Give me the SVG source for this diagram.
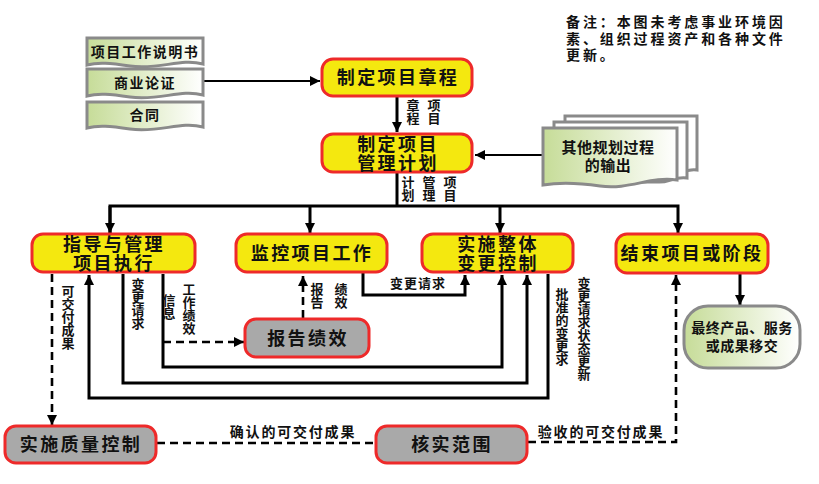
<svg xmlns="http://www.w3.org/2000/svg" width="819" height="484" viewBox="0 0 819 484">
<style>
text{font-family:"Noto Sans CJK SC","Liberation Sans",sans-serif;fill:#111;}
.node{fill:#f4e80f;stroke:#ee2a2a;stroke-width:3;}
.gnode{fill:#a9a9a9;stroke:#ee2a2a;stroke-width:3;}
.doc{fill:url(#gg);stroke:#8a8a8a;stroke-width:3;}
.nt{font-size:18px;font-weight:700;letter-spacing:2.4px;text-anchor:middle;}
.dt{font-size:14px;font-weight:700;letter-spacing:1.5px;text-anchor:middle;}
.lb{font-size:14px;font-weight:700;letter-spacing:1.8px;text-anchor:middle;}
.vt{font-size:13px;font-weight:700;writing-mode:vertical-rl;}
.ln{fill:none;stroke:#000;stroke-width:3;}
.dl{fill:none;stroke:#000;stroke-width:2.6;stroke-dasharray:8 5;}
.note{font-size:14px;font-weight:700;letter-spacing:2.9px;}
</style>
<defs>
<linearGradient id="gg" x1="0" y1="0" x2="1" y2="0"><stop offset="0" stop-color="#c6dc98"/><stop offset="1" stop-color="#ffffff"/></linearGradient>
<marker id="ah" viewBox="0 0 10 10" refX="10" refY="5" markerWidth="10" markerHeight="10" markerUnits="userSpaceOnUse" orient="auto"><path d="M0,0 L10,5 L0,10 z" fill="#000"/></marker>
</defs>

<text class="note" x="566" y="27"><tspan x="566" y="27">备注：本图未考虑事业环境因</tspan><tspan x="566" y="44">素、组织过程资产和各种文件</tspan><tspan x="566" y="60">更新。</tspan></text>

<g id="connectors">
<path class="ln" style="stroke-width:2" d="M203,81 H320" marker-end="url(#ah)"/>
<path class="ln" d="M397,97 V132" marker-end="url(#ah)"/>
<path class="ln" style="stroke-width:2" d="M543,155 H475" marker-end="url(#ah)"/>
<path class="ln" d="M397,172 V206"/>
<path class="ln" d="M110,233 V206 H678 V233" marker-end="url(#ah)"/>
<path class="ln" d="M110,206 V233" marker-end="url(#ah)"/>
<path class="ln" d="M310,206 V233" marker-end="url(#ah)"/>
<path class="ln" d="M500,206 V233" marker-end="url(#ah)"/>
<path class="ln" d="M740,274 V305" marker-end="url(#ah)"/>
<path class="dl" d="M303,318 V276" marker-end="url(#ah)"/>
<path class="ln" d="M363,273 V295 H465 V275" marker-end="url(#ah)"/>
<path class="dl" d="M52,274 V425" marker-end="url(#ah)"/>
<path class="ln" d="M163,274 V367 H502 V275" marker-end="url(#ah)"/>
<path class="dl" d="M163,342 H244" marker-end="url(#ah)"/>
<path class="ln" d="M123,274 V383 H527 V275" marker-end="url(#ah)"/>
<path class="ln" d="M548,274 V398 H89 V275" marker-end="url(#ah)"/>
<path class="dl" d="M157,443 H375"/>
<path class="dl" d="M528,442 H676 V275" marker-end="url(#ah)"/>

<text class="vt" x="434" y="99">项目</text>
<text class="vt" x="413" y="99">章程</text>
<text class="vt" x="450" y="176">项目</text>
<text class="vt" x="429" y="176">管理</text>
<text class="vt" x="408" y="176">计划</text>
<text class="vt" x="341" y="283">绩效</text>
<text class="vt" x="317" y="283">报告</text>
<text class="lb" style="font-size:13px;letter-spacing:1px" x="418" y="288">变更请求</text>
<text class="vt" x="68" y="285">可交付成果</text>
<text class="vt" x="138" y="278">变更请求</text>
<text class="vt" x="169" y="294">信息</text>
<text class="vt" x="189" y="283">工作绩效</text>
<text class="vt" x="562" y="288">批准的变更求</text>
<text class="vt" x="584" y="277">变更请求状态更新</text>
<text class="lb" x="293" y="437">确认的可交付成果</text>
<text class="lb" x="601" y="437">验收的可交付成果</text>
</g>

<g id="docs">
<path class="doc" d="M87,38 H203 V64 C180,58 160,70 130,66 C110,63 98,62 87,65 Z"/>
<text class="dt" x="145" y="57">项目工作说明书</text>
<path class="doc" d="M87,69 H203 V95 C180,89 160,101 130,97 C110,94 98,93 87,96 Z"/>
<text class="dt" x="145" y="88">商业论证</text>
<path class="doc" d="M87,102 H203 V127 C180,121 160,133 130,129 C110,126 98,125 87,128 Z"/>
<text class="dt" x="145" y="120">合同</text>
</g>

<g id="charter">
<rect class="node" x="322" y="59" width="150" height="37" rx="11"/>
<text class="nt" x="398" y="84">制定项目章程</text>
</g>

<g id="plan">
<rect class="node" x="322" y="134" width="150" height="38" rx="11"/>
<text class="nt" x="398" y="151"><tspan x="398" y="151">制定项目</tspan><tspan x="398" y="170">管理计划</tspan></text>
</g>

<g id="other-outputs">
<path class="doc" style="fill:#fff" d="M565,116 H697 V170 C685,168 678,176 668,175 L565,175 Z"/>
<path class="doc" style="fill:#fff" d="M554,122 H687 V178 C675,176 668,183 658,182 L554,182 Z"/>
<path class="doc" d="M543,128 H677 V180 C650,176 630,190 600,186 C580,183 560,182 543,185 Z"/>
<text class="dt" style="font-size:15px;letter-spacing:0.5px" x="608" y="153"><tspan x="608" y="153">其他规划过程</tspan><tspan x="608" y="171">的输出</tspan></text>
</g>

<g id="direct">
<rect class="node" x="32" y="234" width="163" height="38" rx="11"/>
<text class="nt" x="114" y="251"><tspan x="114" y="251">指导与管理</tspan><tspan x="114" y="270">项目执行</tspan></text>
</g>

<g id="monitor">
<rect class="node" x="236" y="234" width="151" height="38" rx="11"/>
<text class="nt" x="312" y="260">监控项目工作</text>
</g>

<g id="change">
<rect class="node" x="422" y="234" width="151" height="38" rx="11"/>
<text class="nt" x="498" y="251"><tspan x="498" y="251">实施整体</tspan><tspan x="498" y="270">变更控制</tspan></text>
</g>

<g id="close">
<rect class="node" x="616" y="234" width="152" height="39" rx="11"/>
<text class="nt" x="692" y="260">结束项目或阶段</text>
</g>

<g id="final">
<rect class="doc" x="684" y="306" width="116" height="62" rx="24"/>
<text class="dt" style="letter-spacing:0.5px" x="742" y="333"><tspan x="742" y="333">最终产品、服务</tspan><tspan x="742" y="351">或成果移交</tspan></text>
</g>

<g id="report">
<rect class="gnode" x="245" y="319" width="124" height="38" rx="11"/>
<text class="nt" x="308" y="345">报告绩效</text>
</g>

<g id="quality">
<rect class="gnode" x="5" y="426" width="151" height="37" rx="11"/>
<text class="nt" x="81" y="451">实施质量控制</text>
</g>

<g id="scope">
<rect class="gnode" x="376" y="426" width="151" height="37" rx="11"/>
<text class="nt" x="452" y="451">核实范围</text>
</g>
</svg>
